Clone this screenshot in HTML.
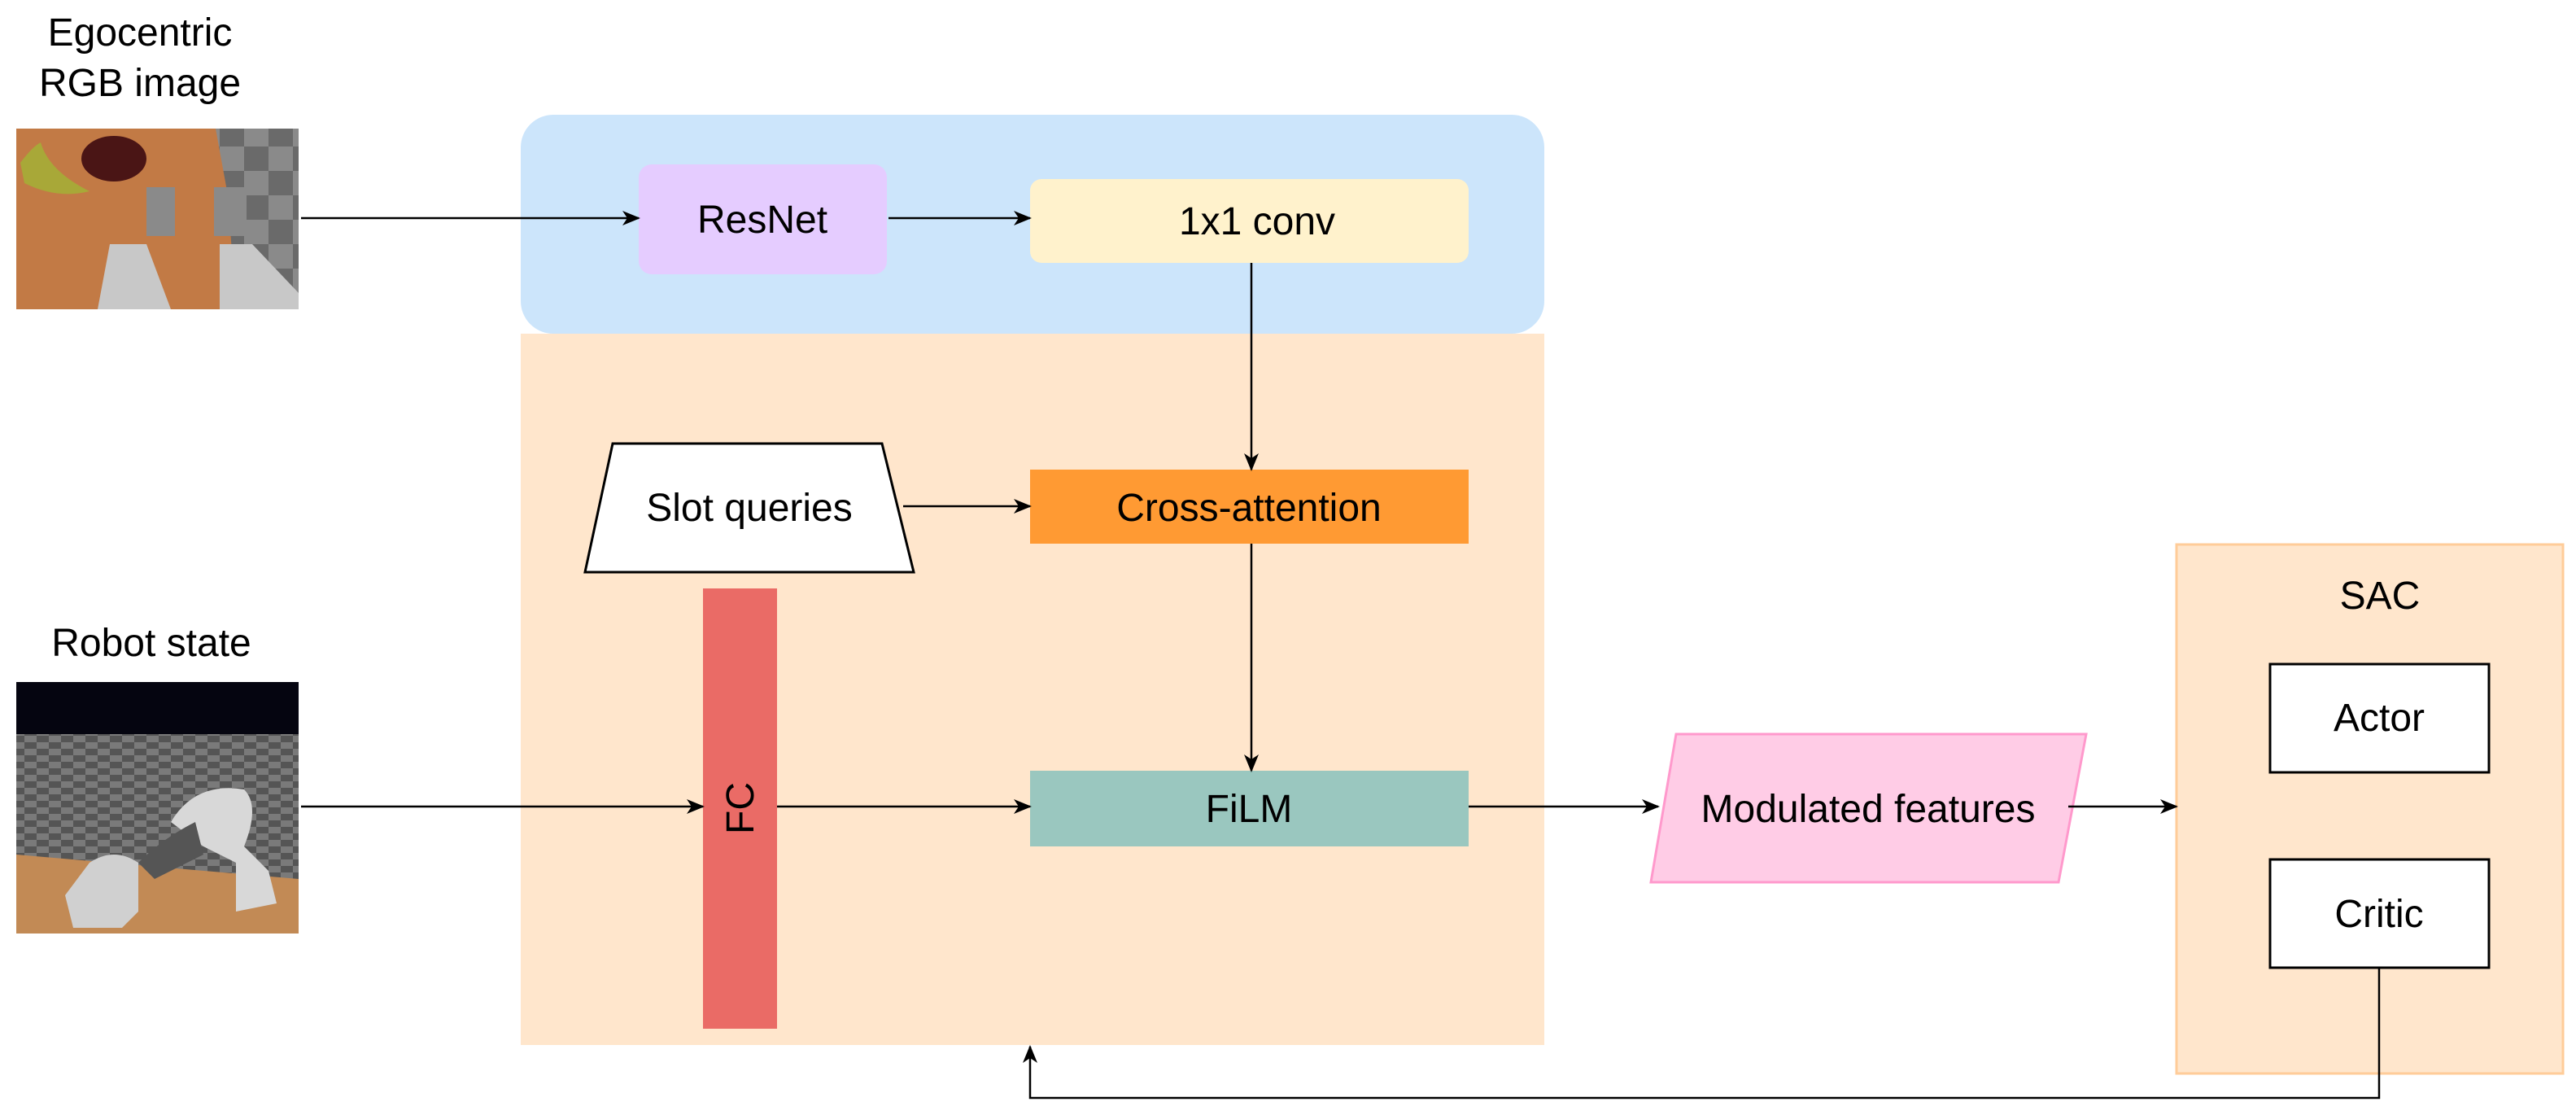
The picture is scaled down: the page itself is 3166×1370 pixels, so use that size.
<!DOCTYPE html>
<html><head><meta charset="utf-8"><style>
html,body{margin:0;padding:0;background:#fff;}
svg{display:block;}
text{font-family:"Liberation Sans",Arial,sans-serif;font-size:48px;fill:#000;}
</style></head><body>
<svg width="3166" height="1370" viewBox="0 0 3166 1370" xmlns="http://www.w3.org/2000/svg">
<defs>
<marker id="b" markerWidth="22" markerHeight="22" refX="20" refY="11" orient="auto" markerUnits="userSpaceOnUse" viewBox="0 0 22 22">
<path d="M0,2 L22,11 L0,20 L6,11 Z" fill="#000"/>
</marker>
<pattern id="chk" width="60" height="60" patternUnits="userSpaceOnUse">
<rect width="60" height="60" fill="#8a8a8a"/><rect width="30" height="30" fill="#6a6a6a"/><rect x="30" y="30" width="30" height="30" fill="#6a6a6a"/>
</pattern>
<pattern id="chk2" width="30" height="16" patternUnits="userSpaceOnUse">
<rect width="30" height="16" fill="#7a7a7a"/><rect width="15" height="8" fill="#555"/><rect x="15" y="8" width="15" height="8" fill="#555"/>
</pattern>
</defs>

<text x="172" y="56" text-anchor="middle">Egocentric</text>
<text x="172" y="118" text-anchor="middle">RGB image</text>
<text x="186" y="806" text-anchor="middle">Robot state</text>

<g>
<rect x="20" y="158" width="347" height="222" fill="#c27a45"/>
<polygon points="265,158 367,158 367,380 290,380 280,240" fill="url(#chk)"/>
<ellipse cx="140" cy="195" rx="40" ry="28" fill="#4a1515"/>
<path d="M25,200 Q40,180 50,175 Q60,210 110,235 Q70,245 30,225 Z" fill="#a8a838"/>
<polygon points="135,300 180,300 210,380 120,380" fill="#c8c8c8"/>
<polygon points="270,300 310,300 367,360 367,380 270,380" fill="#c8c8c8"/>
<rect x="180" y="230" width="35" height="60" fill="#8a8a8a"/>
<rect x="263" y="230" width="40" height="60" fill="#8a8a8a"/>
</g>

<g>
<rect x="20" y="838" width="347" height="309" fill="#050510"/>
<rect x="20" y="902" width="347" height="245" fill="url(#chk2)"/>
<polygon points="20,1050 367,1080 367,1147 20,1147" fill="#c28a55"/>
<path d="M210,1010 Q240,960 300,970 Q320,990 300,1040 L330,1070 L340,1110 L290,1120 L290,1060 L250,1040 Z" fill="#d8d8d8"/>
<path d="M170,1060 Q200,1030 240,1010 L250,1050 Q210,1070 190,1080 Z" fill="#555"/>
<path d="M110,1060 Q140,1040 170,1060 L170,1120 L150,1140 L90,1140 L80,1100 Z" fill="#d0d0d0"/>
</g>

<rect x="640" y="410" width="1258" height="874" fill="#ffe6cc"/>
<rect x="640" y="141" width="1258" height="269" rx="40" ry="40" fill="#cce5fb"/>

<rect x="785" y="202" width="305" height="135" rx="16" fill="#e5ccff"/>
<text x="937" y="286" text-anchor="middle">ResNet</text>
<rect x="1266" y="220" width="539" height="103" rx="14" fill="#fff2cc"/>
<text x="1545" y="288" text-anchor="middle">1x1 conv</text>

<polygon points="753,545 1084,545 1123,703 719,703" fill="#fff" stroke="#000" stroke-width="3"/>
<text x="921" y="640" text-anchor="middle">Slot queries</text>

<rect x="1266" y="577" width="539" height="91" fill="#ff9a33"/>
<text x="1535" y="640" text-anchor="middle">Cross-attention</text>

<rect x="864" y="723" width="91" height="541" fill="#ea6b66"/>
<text transform="translate(926,993) rotate(-90)" text-anchor="middle">FC</text>

<rect x="1266" y="947" width="539" height="93" fill="#9ac7bf"/>
<text x="1535" y="1010" text-anchor="middle">FiLM</text>

<polygon points="2060,902 2564,902 2530,1084 2029,1084" fill="#ffcce6" stroke="#ff99cc" stroke-width="3"/>
<text x="2296" y="1010" text-anchor="middle">Modulated features</text>

<rect x="2675" y="669" width="475" height="650" fill="#ffe6cc" stroke="#ffcc99" stroke-width="3"/>
<text x="2925" y="748" text-anchor="middle">SAC</text>
<rect x="2790" y="816" width="269" height="133" fill="#fff" stroke="#000" stroke-width="3"/>
<text x="2924" y="898" text-anchor="middle">Actor</text>
<rect x="2790" y="1056" width="269" height="133" fill="#fff" stroke="#000" stroke-width="3"/>
<text x="2924" y="1139" text-anchor="middle">Critic</text>

<g stroke="#000" stroke-width="2.5" fill="none">
<line x1="370" y1="268" x2="785" y2="268" marker-end="url(#b)"/>
<line x1="1092" y1="268" x2="1266" y2="268" marker-end="url(#b)"/>
<line x1="1538" y1="323" x2="1538" y2="577" marker-end="url(#b)"/>
<line x1="1110" y1="622" x2="1266" y2="622" marker-end="url(#b)"/>
<line x1="1538" y1="668" x2="1538" y2="947" marker-end="url(#b)"/>
<line x1="370" y1="991" x2="864" y2="991" marker-end="url(#b)"/>
<line x1="955" y1="991" x2="1266" y2="991" marker-end="url(#b)"/>
<line x1="1805" y1="991" x2="2038" y2="991" marker-end="url(#b)"/>
<line x1="2542" y1="991" x2="2675" y2="991" marker-end="url(#b)"/>
<polyline points="2924,1189 2924,1349 1266,1349 1266,1286" marker-end="url(#b)"/>
</g>
</svg>
</body></html>
